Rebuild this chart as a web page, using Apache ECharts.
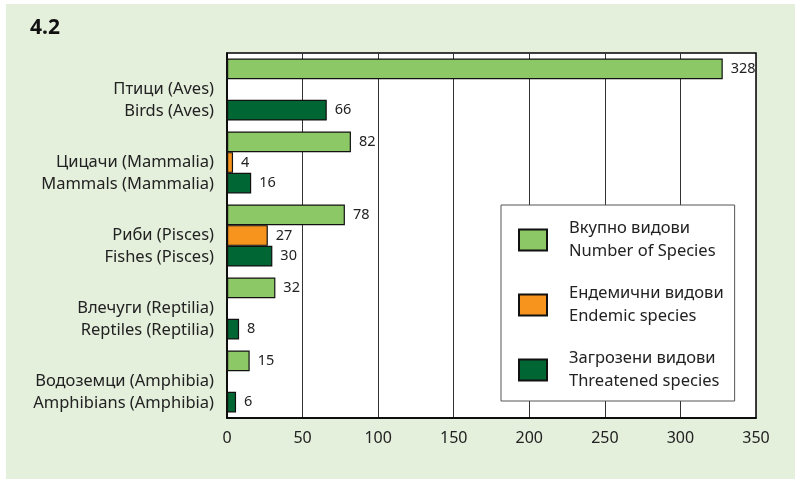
<!DOCTYPE html>
<html>
<head>
<meta charset="utf-8">
<script src="https://cdn.jsdelivr.net/npm/echarts@6/dist/echarts.min.js"></script>
<style>
  html, body { margin: 0; padding: 0; background: #fff; }
  #chart { width: 795px; height: 481px; }
</style>
</head>
<body>
<div id="chart"></div>
<script>
// categories (top to bottom)
const categories = [
  'Птици (Aves)\nBirds (Aves)',
  'Цицачи (Mammalia)\nMammals (Mammalia)',
  'Риби (Pisces)\nFishes (Pisces)',
  'Влечуги (Reptilia)\nReptiles (Reptilia)',
  'Водоземци (Amphibia)\nAmphibians (Amphibia)'
]
const seriesNames = [
  'Вкупно видови\nNumber of Species',
  'Ендемични видови\nEndemic species',
  'Загрозени видови\nThreatened species'
]
const totalSpecies = [328, 82, 78, 32, 15]
const endemicSpecies = [null, 4, 27, null, null]
const threatenedSpecies = [66, 16, 30, 8, 6]
const seriesColors = ['#8cc866', '#f7941d', '#006633']

const font = 'Noto Sans'
const chart = echarts.init(document.getElementById('chart'))

const makeSeries = (name, data, color) => ({
  name: name,
  type: 'bar',
  data: data,
  barGap: '0%',
  barCategoryGap: '15%',
  itemStyle: {
    color: color,
    borderColor: '#111',
    borderWidth: 1.2
  },
  label: {
    show: true,
    position: 'right',
    distance: 8,
    fontFamily: font,
    fontSize: 14.5,
    color: '#222'
  }
})

chart.setOption({
  animation: false,
  graphic: [{
    type: 'rect',
    z: -10,
    silent: true,
    shape: { x: 6, y: 4, width: 789, height: 475 },
    style: { fill: '#e4efdc' }
  }],
  title: {
    text: '4.2',
    left: 30,
    top: 18,
    padding: 0,
    textStyle: {
      fontFamily: font,
      fontSize: 21,
      fontWeight: 'bold',
      color: '#111'
    }
  },
  grid: {
    show: true,
    left: 227,
    top: 53,
    right: 39,
    bottom: 63,
    backgroundColor: '#fff',
    borderColor: '#000',
    borderWidth: 1.5
  },
  legend: {
    orient: 'vertical',
    left: 501,
    top: 205,
    data: seriesNames,
    backgroundColor: '#fff',
    borderColor: '#555',
    borderWidth: 1,
    padding: [12, 11, 8, 17],
    itemWidth: 28,
    itemHeight: 21,
    itemGap: 19,
    icon: 'rect',
    textStyle: {
      fontFamily: font,
      fontSize: 16.5,
      lineHeight: 23,
      color: '#222',
      padding: [0, 0, 0, 17]
    }
  },
  xAxis: {
    type: 'value',
    min: 0,
    max: 350,
    interval: 50,
    axisLine: { show: true, lineStyle: { color: '#000', width: 1.5 } },
    axisTick: { show: false },
    splitLine: { show: true, lineStyle: { color: '#333', width: 1 } },
    axisLabel: {
      margin: 12,
      fontFamily: font,
      fontSize: 16,
      color: '#222'
    }
  },
  yAxis: {
    type: 'category',
    inverse: true,
    data: categories,
    axisLine: { show: true, lineStyle: { color: '#000', width: 1.5 } },
    axisTick: { show: false },
    axisLabel: {
      margin: 13,
      fontFamily: font,
      fontSize: 16.5,
      lineHeight: 22,
      color: '#222',
      align: 'right',
      // blank first line pushes the two-line label below the category centre
      formatter: (value) => '\n' + value
    }
  },
  series: [
    makeSeries(seriesNames[0], totalSpecies, seriesColors[0]),
    makeSeries(seriesNames[1], endemicSpecies, seriesColors[1]),
    makeSeries(seriesNames[2], threatenedSpecies, seriesColors[2])
  ]
})
</script>
</body>
</html>
